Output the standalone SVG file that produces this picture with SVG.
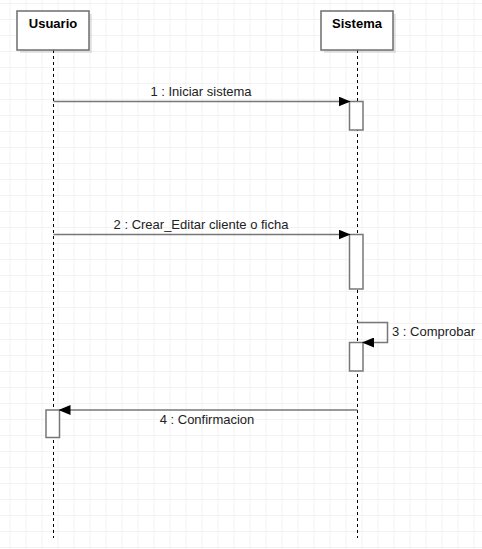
<svg xmlns="http://www.w3.org/2000/svg" width="482" height="549" viewBox="0 0 482 549">
<defs>
<pattern id="grid" x="9.5" y="3" width="16" height="16" patternUnits="userSpaceOnUse">
<path d="M0 0H16M0 0V16" fill="none" stroke="#e8e8e8" stroke-width="1"/>
</pattern>
<marker id="arr" viewBox="0 0 12 10" refX="11" refY="5" markerWidth="12" markerHeight="10" markerUnits="userSpaceOnUse" orient="auto">
<path d="M0 0L12 5L0 10Z" fill="#000"/>
</marker>
<filter id="sh" x="-20%" y="-20%" width="150%" height="150%">
<feOffset dx="3" dy="3" in="SourceAlpha" result="o"/>
<feColorMatrix in="o" type="matrix" values="0 0 0 0 0  0 0 0 0 0  0 0 0 0 0  0 0 0 0.1 0"/>
</filter>
</defs>
<style>
.box{fill:#fff;stroke:#6e6e6e;stroke-width:1.5}
.act{fill:#fff;stroke:#777;stroke-width:1.5}
.life{stroke:#000;stroke-width:1;stroke-dasharray:3 3;fill:none}
.msg{stroke:#777;stroke-width:1.5;fill:none}
.t{font-family:"Liberation Sans",Arial,sans-serif;font-size:13px;fill:#222}
.h{font-family:"Liberation Sans",Arial,sans-serif;font-size:13px;font-weight:bold;fill:#000}
</style>
<rect x="0" y="0" width="482" height="549" fill="#fff"/>
<rect x="0" y="0" width="482" height="549" fill="url(#grid)"/>
<g id="lifelines">
<line class="life" x1="53.5" y1="50" x2="53.5" y2="538"/>
<line class="life" x1="357.5" y1="50" x2="357.5" y2="538"/>
</g>
<g id="usuario">
<rect x="17" y="11" width="72" height="39" fill="#000" filter="url(#sh)"/>
<rect class="box" x="17" y="11" width="72" height="39"/>
<text class="h" x="53" y="27.5" text-anchor="middle">Usuario</text>
</g>
<g id="sistema">
<rect x="321" y="11" width="72" height="39" fill="#000" filter="url(#sh)"/>
<rect class="box" x="321" y="11" width="72" height="39"/>
<text class="h" x="357" y="27.5" text-anchor="middle">Sistema</text>
</g>
<g id="activations">
<rect class="act" x="349.5" y="101.5" width="13.5" height="28.5"/>
<rect class="act" x="349.5" y="234.5" width="13.5" height="54.5"/>
<rect class="act" x="349.5" y="342.5" width="13.5" height="28.5"/>
<rect class="act" x="46" y="410" width="13.5" height="27.5"/>
</g>
<g id="connectors">
<line class="msg" x1="53.5" y1="101.5" x2="349.5" y2="101.5" marker-end="url(#arr)"/>
<line class="msg" x1="53.5" y1="234.5" x2="349.5" y2="234.5" marker-end="url(#arr)"/>
<polyline class="msg" points="357.5,322.5 387.5,322.5 387.5,342.5 363,342.5" marker-end="url(#arr)"/>
<line class="msg" x1="357.5" y1="410" x2="59.5" y2="410" marker-end="url(#arr)"/>
</g>
<g id="labels">
<text class="t" x="201" y="95.5" text-anchor="middle">1 : Iniciar sistema</text>
<text class="t" x="201" y="228.5" text-anchor="middle">2 : Crear_Editar cliente o ficha</text>
<text class="t" x="392" y="336">3 : Comprobar</text>
<text class="t" x="207" y="423.5" text-anchor="middle">4 : Confirmacion</text>
</g>
</svg>
